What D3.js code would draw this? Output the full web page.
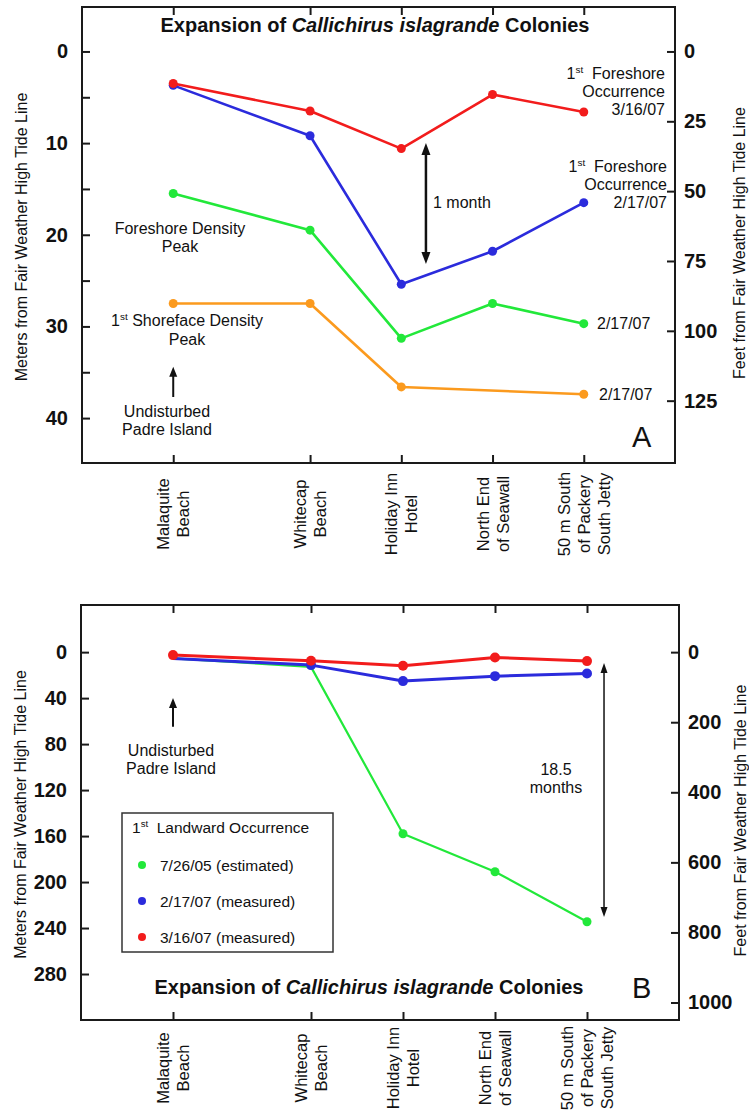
<!DOCTYPE html>
<html><head><meta charset="utf-8">
<script src="https://cdn.jsdelivr.net/npm/d3@7"></script>
<style>
body{margin:0;background:#fff}
svg{display:block}
text{font-family:'Liberation Sans',Arial,Helvetica,sans-serif;fill:#111}
</style>
</head><body>
<svg id="c" width="749" height="1116"></svg>
<script>
// ---------------- DATA ----------------
const stations = [["Malaquite","Beach"],["Whitecap","Beach"],["Holiday Inn","Hotel"],["North End","of Seawall"],["50 m South","of Packery","South Jetty"]];
const stationPos = [0, 1.5, 2.5, 3.5, 4.5];   // relative station spacing along the shore

// Panel A (meters from fair weather high tide line)
const aRed    = [3.5, 6.5, 10.6, 4.7, 6.6];      // 1st foreshore occurrence 3/16/07
const aBlue   = [3.7, 9.2, 25.4, 21.8, 16.5];    // 1st foreshore occurrence 2/17/07
const aGreen  = [15.5, 19.5, 31.3, 27.5, 29.7];  // foreshore density peak
const aOrange = [27.5, 27.5, 36.6, null, 37.4];  // 1st shoreface density peak

// Panel B (meters)
const bGreen = [5.5, 12.8, 158, 191, 234.5];     // 7/26/05 (estimated)
const bBlue  = [5.5, 11.3, 25.2, 20.9, 18.6];    // 2/17/07 (measured)
const bRed   = [2.6, 7.5, 11.9, 4.6, 7.8];       // 3/16/07 (measured)
const bGreenMarkers = [2, 3, 4];
const bBlueMarkers  = [1, 2, 3, 4];
const bRedMarkers   = [0, 1, 2, 3, 4];

const metersTicksA = [0, 5, 10, 15, 20, 25, 30, 35, 40];
const metersLabelsA = [0, 10, 20, 30, 40];
const feetTicksA = [0, 25, 50, 75, 100, 125];
const metersTicksB = [0, 40, 80, 120, 160, 200, 240, 280];
const feetTicksB = [0, 200, 400, 600, 800, 1000];

const legendB = [["7/26/05 (estimated)", "#22e83a"], ["2/17/07 (measured)", "#2b2bdc"], ["3/16/07 (measured)", "#f21c1c"]];

// ---------------- STYLE ----------------
const C = {red:"#f21c1c", blue:"#2b2bdc", green:"#22e83a", orange:"#fb9a1e", ink:"#111", frame:"#1a1a1a"};
const FT = 3.28084;
const svg = d3.select("#c");

function panel(o){
  const g = svg.append("g");
  const x = d3.scaleLinear().domain([-1, 5.5]).range([o.left, o.right]);
  const y = d3.scaleLinear().domain(o.mDomain).range([o.top, o.bottom]);
  const yf = d3.scaleLinear().domain(o.mDomain.map(d => d*FT)).range([o.top, o.bottom]);

  // axes
  const st = g => { g.select(".domain").remove(); g.selectAll(".tick line").attr("stroke", C.frame).attr("stroke-width", 2);
    g.selectAll(".tick text").attr("font-size", 20).attr("font-weight", "bold").attr("fill", C.ink); };
  g.append("g").attr("transform", `translate(${o.left},0)`)
    .call(d3.axisLeft(y).tickValues(o.mTicks).tickSize(-8).tickPadding(14)
      .tickFormat(d => o.mLabels.includes(d) ? String(d) : "")).call(st);
  g.append("g").attr("transform", `translate(${o.right},0)`)
    .call(d3.axisRight(yf).tickValues(o.fTicks).tickSize(-8).tickPadding(9).tickFormat(d => String(d))).call(st);
  g.append("g").attr("transform", `translate(0,${o.top})`)
    .call(d3.axisTop(x).tickValues(stationPos).tickSize(-8).tickFormat("")).call(st);
  g.append("g").attr("transform", `translate(0,${o.bottom})`)
    .call(d3.axisBottom(x).tickValues(stationPos).tickSize(-8).tickFormat("")).call(st);

  g.append("rect").attr("x", o.left).attr("y", o.top).attr("width", o.right-o.left).attr("height", o.bottom-o.top)
    .attr("fill", "none").attr("stroke", C.frame).attr("stroke-width", 2);

  // station labels (rotated)
  stations.forEach((lines, i) => {
    const t = g.append("text").attr("transform", `translate(${x(stationPos[i])},${o.labelY}) rotate(-90)`)
      .attr("text-anchor", "middle").attr("font-size", 16.5);
    lines.forEach((l, j) => t.append("tspan").attr("x", 0).attr("y", (j - (lines.length-1)/2)*20)
      .attr("dominant-baseline", "central").text(l));
  });

  // axis titles
  g.append("text").attr("transform", `translate(${o.leftTitleX},${(o.top+o.bottom)/2 + 2}) rotate(-90)`)
    .attr("text-anchor", "middle").attr("dominant-baseline", "central").attr("font-size", 16)
    .text("Meters from Fair Weather High Tide Line");
  g.append("text").attr("transform", `translate(${o.rightTitleX},${(o.top+o.bottom)/2 + 8}) rotate(-90)`)
    .attr("text-anchor", "middle").attr("dominant-baseline", "central").attr("font-size", 16)
    .text("Feet from Fair Weather High Tide Line");

  // title
  const tt = g.append("text").attr("x", o.titleX).attr("y", o.titleY).attr("text-anchor", "middle")
    .attr("font-size", 20).attr("font-weight", "bold");
  tt.append("tspan").text("Expansion of ");
  tt.append("tspan").attr("font-style", "italic").text("Callichirus islagrande");
  tt.append("tspan").text(" Colonies");

  // panel letter
  g.append("text").attr("x", 632).attr("y", o.letterY).attr("font-size", 29).text(o.letter);
  return {g, x, y};
}

function series(p, values, color, width, r, markerIdx){
  const pts = values.map((v, i) => ({i, v})).filter(d => d.v != null);
  const line = d3.line().x(d => p.x(stationPos[d.i])).y(d => p.y(d.v));
  p.g.append("path").datum(pts).attr("d", line).attr("fill", "none").attr("stroke", color)
    .attr("stroke-width", width).attr("stroke-linejoin", "round");
  const mk = markerIdx ? pts.filter(d => markerIdx.includes(d.i)) : pts;
  p.g.selectAll(null).data(mk).enter().append("circle")
    .attr("cx", d => p.x(stationPos[d.i])).attr("cy", d => p.y(d.v)).attr("r", r).attr("fill", color);
}

function arrow(g, x, y1, y2, both, w, hw, hl){
  const s = Math.sign(y2 - y1);
  g.append("line").attr("x1", x).attr("x2", x)
    .attr("y1", both ? y1 + s*hl*0.8 : y1).attr("y2", y2 - s*hl*0.8)
    .attr("stroke", C.ink).attr("stroke-width", w);
  const head = (yy, dir) => g.append("path")
    .attr("d", `M${x},${yy} L${x-hw/2},${yy - dir*hl} L${x+hw/2},${yy - dir*hl} Z`).attr("fill", C.ink);
  head(y2, s);
  if (both) head(y1, -s);
}

function supText(g, x, y, anchor, pre, sup, post, size){
  const t = g.append("text").attr("x", x).attr("y", y).attr("text-anchor", anchor).attr("font-size", size)
    .style("white-space", "pre");
  t.append("tspan").text(pre);
  t.append("tspan").attr("font-size", size*0.62).attr("dy", -size*0.38).text(sup);
  t.append("tspan").attr("dy", size*0.38).text(post);
  return t;
}
function txt(g, x, y, anchor, s, size){
  return g.append("text").attr("x", x).attr("y", y).attr("text-anchor", anchor).attr("font-size", size||16).text(s);
}

// ---------------- PANEL A ----------------
const A = panel({left:82, right:675, top:7, bottom:463, mDomain:[-4.85, 44.9],
  mTicks:metersTicksA, mLabels:metersLabelsA, fTicks:feetTicksA, labelY:514,
  leftTitleX:21, rightTitleX:739, titleX:375, titleY:32, letter:"A", letterY:447});
series(A, aOrange, C.orange, 2.6, 4.5);
series(A, aGreen, C.green, 2.6, 4.5);
series(A, aBlue, C.blue, 2.6, 4.5);
series(A, aRed, C.red, 2.6, 4.5);

supText(A.g, 665, 79, "end", "1", "st", "  Foreshore", 16);
txt(A.g, 665, 97, "end", "Occurrence");
txt(A.g, 665, 115, "end", "3/16/07");
supText(A.g, 667, 172, "end", "1", "st", "  Foreshore", 16);
txt(A.g, 667, 190, "end", "Occurrence");
txt(A.g, 667, 208, "end", "2/17/07");
txt(A.g, 597, 329, "start", "2/17/07");
txt(A.g, 599, 400, "start", "2/17/07");
txt(A.g, 433, 208, "start", "1 month");
arrow(A.g, A.x(2.77), A.y(10.0), A.y(23.2), true, 2.5, 9, 12);

txt(A.g, 180, 234, "middle", "Foreshore Density");
txt(A.g, 180, 252, "middle", "Peak");
supText(A.g, 187, 326, "middle", "1", "st", " Shoreface Density", 16);
txt(A.g, 187, 345, "middle", "Peak");
arrow(A.g, A.x(0), A.y(37.7), A.y(34.4), false, 2, 8, 10);
txt(A.g, 167, 417, "middle", "Undisturbed");
txt(A.g, 167, 435, "middle", "Padre Island");

// ---------------- PANEL B ----------------
const B = panel({left:81, right:679, top:605, bottom:1020, mDomain:[-41, 320],
  mTicks:metersTicksB, mLabels:metersTicksB, fTicks:feetTicksB, labelY:1068,
  leftTitleX:20, rightTitleX:740, titleX:369, titleY:994, letter:"B", letterY:998});
series(B, bGreen, C.green, 2.2, 4.5, bGreenMarkers);
series(B, bBlue, C.blue, 3, 5, bBlueMarkers);
series(B, bRed, C.red, 3, 5, bRedMarkers);

arrow(B.g, B.x(0), B.y(65), B.y(40), false, 2, 8, 10);
txt(B.g, 171, 756, "middle", "Undisturbed");
txt(B.g, 171, 774, "middle", "Padre Island");
txt(B.g, 556, 775, "middle", "18.5");
txt(B.g, 556, 793, "middle", "months");
arrow(B.g, B.x(4.685), B.y(9.5), B.y(230.5), true, 1.5, 7, 10);

// legend
const lg = B.g.append("g");
lg.append("rect").attr("x", 122).attr("y", 813).attr("width", 211).attr("height", 139)
  .attr("fill", "#fff").attr("stroke", "#333").attr("stroke-width", 1.5);
supText(lg, 132, 833, "start", "1", "st", "  Landward Occurrence", 15.5);
legendB.forEach((d, i) => {
  const yy = 865 + i*36;
  lg.append("circle").attr("cx", 142).attr("cy", yy).attr("r", 4).attr("fill", d[1]);
  txt(lg, 160, yy + 5.5, "start", d[0], 15.5);
});
</script>
</body></html>
